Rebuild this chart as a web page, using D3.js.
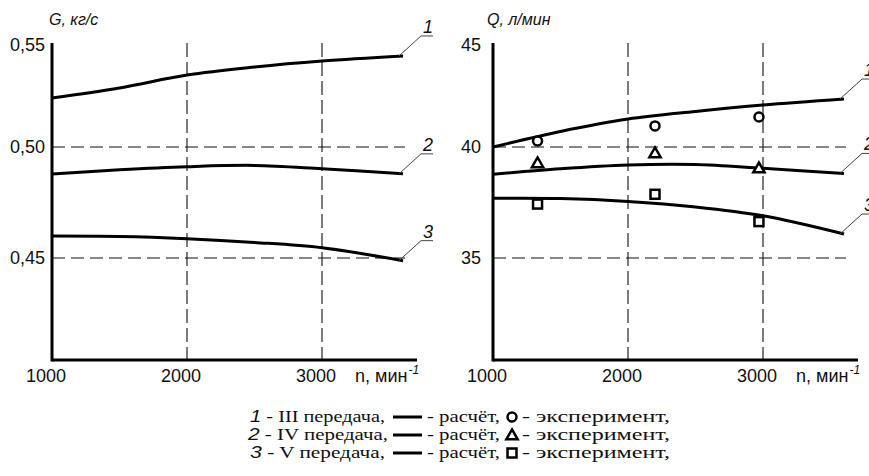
<!DOCTYPE html>
<html>
<head>
<meta charset="utf-8">
<script src="https://cdn.jsdelivr.net/npm/d3@7"></script>
<style>
  body { margin: 0; background: #fff; }
  svg { display: block; }
  .tick-label { font-family: "Liberation Sans", Arial, sans-serif; font-size: 18px; fill: #111; }
  .title { font-family: "Liberation Sans", Arial, sans-serif; font-size: 16px; font-style: italic; fill: #111; }
  .legend { font-family: "Liberation Serif", "Times New Roman", serif; font-size: 17px; fill: #111; }
  .num { font-family: "Liberation Sans", Arial, sans-serif; font-style: italic; }
</style>
</head>
<body>
<svg width="869" height="476"></svg>
<script>
// n, мин^-1
const rpm = [1000, 1500, 2000, 2500, 3000, 3600];
const rpmTicks = [1000, 2000, 3000];

// G, кг/с  (расчёт)
const gIII = [0.5221, 0.5266, 0.5324, 0.5360, 0.5387, 0.5410];
const gIV  = [0.4878, 0.4897, 0.4911, 0.4917, 0.4902, 0.4879];
const gV   = [0.4599, 0.4597, 0.4587, 0.4570, 0.4546, 0.4488];
const gTicks = [0.45, 0.50, 0.55];

// Q, л/мин  (расчёт)
const qIII = [40.0, 40.7, 41.26, 41.6, 41.89, 42.16];
const qIV  = [38.77, 39.02, 39.19, 39.21, 39.04, 38.81];
const qV   = [37.69, 37.68, 37.55, 37.3, 36.9, 36.08];
const qTicks = [35, 40, 45];

// Q, л/мин  (эксперимент)
const expRpm = [1330, 2200, 2970];
const qExpIII = [40.27, 40.95, 41.35];
const qExpIV  = [39.28, 39.73, 39.05];
const qExpV   = [37.43, 37.87, 36.64];

const curveLabels = ['1', '2', '3'];
const gearNames = ['III передача,', 'IV передача,', 'V передача,'];

const svg = d3.select('svg');

const plotTop = 43;
const plotBottom = 360;

function drawPanel(opt) {
    const g = svg.append('g');

    const x = d3.scaleLinear().domain([1000, 3000]).range([opt.left, opt.left + 270]);
    const y = d3.scaleLinear().domain(opt.yRef).range([258, 147]);
    const xEnd = x(rpm[rpm.length - 1]);

    // grid
    opt.ticks.forEach(v => {
        const yy = y(v);
        if (yy <= plotTop + 2) return;
        g.append('line')
            .attr('x1', opt.left).attr('x2', xEnd + 2)
            .attr('y1', yy).attr('y2', yy)
            .attr('stroke', '#111').attr('stroke-width', 1.1)
            .attr('stroke-dasharray', '13,6');
    });
    rpmTicks.slice(1).forEach(v => {
        g.append('line')
            .attr('x1', x(v)).attr('x2', x(v))
            .attr('y1', plotTop).attr('y2', plotBottom)
            .attr('stroke', '#111').attr('stroke-width', 1.1)
            .attr('stroke-dasharray', '14,5');
    });

    // axes
    g.append('line')
        .attr('x1', opt.left).attr('x2', opt.left)
        .attr('y1', plotTop).attr('y2', plotBottom + 1.5)
        .attr('stroke', '#000').attr('stroke-width', 3);
    g.append('line')
        .attr('x1', opt.left).attr('x2', opt.left + 365)
        .attr('y1', plotBottom).attr('y2', plotBottom)
        .attr('stroke', '#000').attr('stroke-width', 3);

    // y tick labels
    opt.ticks.forEach(v => {
        g.append('text')
            .attr('class', 'tick-label')
            .attr('x', opt.left - opt.labelGap)
            .attr('y', Math.max(y(v), plotTop + 2))
            .attr('dy', '0.35em')
            .attr('text-anchor', 'end')
            .text(opt.fmt(v));
    });

    // x tick labels
    rpmTicks.forEach(v => {
        g.append('text')
            .attr('class', 'tick-label')
            .attr('x', x(v) - 6)
            .attr('y', 382)
            .attr('text-anchor', 'middle')
            .text(v);
    });

    const xt = g.append('text')
        .attr('class', 'tick-label')
        .attr('x', opt.left + 303)
        .attr('y', 382);
    xt.append('tspan').text('n, мин');
    xt.append('tspan')
        .attr('dy', -8).attr('dx', 1)
        .style('font-size', '12px').style('font-style', 'italic')
        .text('-1');

    // y title
    g.append('text')
        .attr('class', 'title')
        .attr('x', opt.left + opt.titleDx)
        .attr('y', 25)
        .text(opt.title);

    // curves
    const line = d3.line()
        .x((d, i) => x(rpm[i]))
        .y(d => y(d))
        .curve(d3.curveCatmullRom);

    opt.series.forEach((s, k) => {
        g.append('path')
            .attr('d', line(s))
            .attr('fill', 'none')
            .attr('stroke', '#000')
            .attr('stroke-width', 3);

        // leader line with label
        const ye = y(s[s.length - 1]);
        g.append('path')
            .attr('d', `M${xEnd - 4},${ye} L${xEnd + 18},${ye - 20} L${xEnd + 30},${ye - 20}`)
            .attr('fill', 'none')
            .attr('stroke', '#444')
            .attr('stroke-width', 1);
        g.append('text')
            .attr('class', 'tick-label')
            .style('font-style', 'italic')
            .attr('x', xEnd + 20)
            .attr('y', ye - 23)
            .text(curveLabels[k]);
    });

    // experimental markers
    if (opt.exp) {
        opt.exp.forEach((s, k) => {
            s.forEach((v, i) => drawMarker(g, k, x(expRpm[i]), y(v)));
        });
    }
}

function drawMarker(g, kind, cx, cy) {
    if (kind === 0) {
        g.append('circle')
            .attr('cx', cx).attr('cy', cy).attr('r', 4.5)
            .attr('fill', '#fff').attr('stroke', '#000').attr('stroke-width', 2.5);
    } else if (kind === 1) {
        g.append('path')
            .attr('d', d3.symbol().type(d3.symbolTriangle).size(55)())
            .attr('transform', `translate(${cx},${cy + 1})`)
            .attr('fill', '#fff').attr('stroke', '#000').attr('stroke-width', 2.5);
    } else {
        g.append('rect')
            .attr('x', cx - 4.5).attr('y', cy - 4.5)
            .attr('width', 9).attr('height', 9)
            .attr('fill', '#fff').attr('stroke', '#000').attr('stroke-width', 2.5);
    }
}

drawPanel({
    left: 52,
    yRef: [0.45, 0.50],
    ticks: gTicks,
    fmt: v => d3.format('.2f')(v).replace('.', ','),
    labelGap: 7,
    title: 'G, кг/с',
    titleDx: -3,
    series: [gIII, gIV, gV]
});

drawPanel({
    left: 493,
    yRef: [35, 40],
    ticks: qTicks,
    fmt: v => String(v),
    labelGap: 12,
    title: 'Q, л/мин',
    titleDx: -6,
    series: [qIII, qIV, qV],
    exp: [qExpIII, qExpIV, qExpV]
});

// legend
const legendRows = [0, 1, 2];
const legendStarts = [250, 248, 250];
const legendWidths = [135, 140, 135];
legendRows.forEach(k => {
    const yb = 422 + k * 18;
    const t = svg.append('text').attr('class', 'legend')
        .attr('x', legendStarts[k]).attr('y', yb)
        .attr('textLength', legendWidths[k])
        .attr('lengthAdjust', 'spacingAndGlyphs');
    t.append('tspan').attr('class', 'num').text(curveLabels[k]);
    t.append('tspan').text(' - ' + gearNames[k]);

    svg.append('line')
        .attr('x1', 393).attr('x2', 422)
        .attr('y1', yb - 5).attr('y2', yb - 5)
        .attr('stroke', '#000').attr('stroke-width', 3);

    svg.append('text').attr('class', 'legend')
        .attr('x', 427).attr('y', yb)
        .attr('textLength', 73)
        .attr('lengthAdjust', 'spacingAndGlyphs')
        .text('- расчёт,');

    drawMarker(svg, k, 512, yb - 5);

    svg.append('text').attr('class', 'legend')
        .attr('x', 522).attr('y', yb)
        .attr('textLength', 148)
        .attr('lengthAdjust', 'spacingAndGlyphs')
        .text('- эксперимент,');
});
</script>
</body>
</html>
